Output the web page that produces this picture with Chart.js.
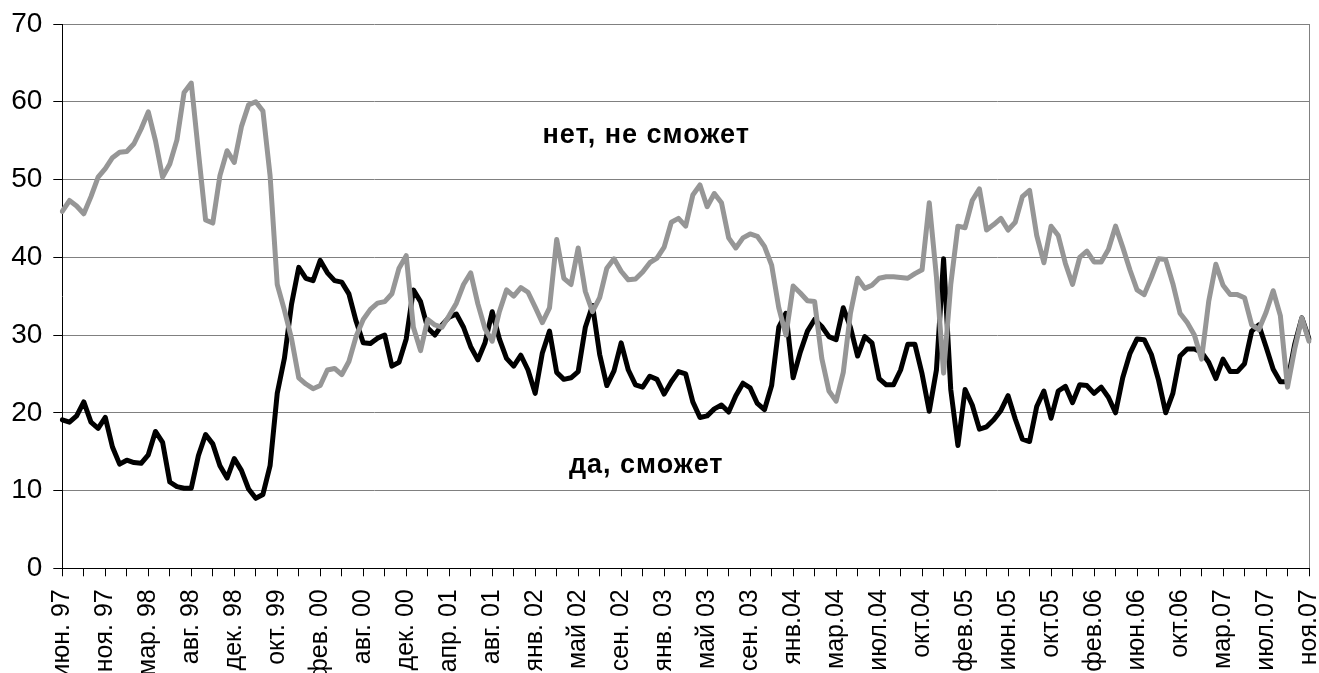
<!DOCTYPE html>
<html>
<head>
<meta charset="utf-8">
<script src="https://cdn.jsdelivr.net/npm/chart.js@4"></script>
<style>
html, body { margin: 0; padding: 0; background: #fff; overflow: hidden; }
</style>
</head>
<body>
<canvas id="chart" width="1319" height="673"></canvas>
<script>
// подписи оси X (каждая шестая точка)
const tickLabels = [
    'июн. 97', 'ноя. 97', 'мар. 98', 'авг. 98', 'дек. 98', 'окт. 99', 'фев. 00', 'авг. 00',
    'дек. 00', 'апр. 01', 'авг. 01', 'янв. 02', 'май 02', 'сен. 02', 'янв. 03', 'май 03',
    'сен. 03', 'янв.04', 'мар.04', 'июл.04', 'окт.04', 'фев.05', 'июн.05', 'окт.05',
    'фев.06', 'июн.06', 'окт.06', 'мар.07', 'июл.07', 'ноя.07',
];
const labelStep = 6;
const tickStep = 3;

// да, сможет
const seriesYes = [
    19.1, 18.8, 19.6, 21.4, 18.8, 18.0, 19.4, 15.6, 13.4, 13.9,
    13.6, 13.5, 14.6, 17.6, 16.2, 11.1, 10.5, 10.3, 10.3, 14.5,
    17.2, 16.0, 13.2, 11.6, 14.1, 12.6, 10.2, 9.0, 9.5, 13.2,
    22.5, 27.0, 34.0, 38.7, 37.3, 37.0, 39.6, 38.0, 37.0, 36.8,
    35.3, 31.8, 29.0, 28.9, 29.6, 30.0, 26.0, 26.5, 29.5, 35.8,
    34.3, 30.9, 30.0, 31.3, 32.3, 32.7, 31.0, 28.5, 26.8, 29.0,
    33.0, 29.5, 27.0, 26.0, 27.4, 25.5, 22.5, 27.7, 30.5, 25.2,
    24.3, 24.5, 25.3, 31.0, 33.8, 27.5, 23.5, 25.4, 29.0, 25.5,
    23.6, 23.3, 24.7, 24.3, 22.4, 24.0, 25.3, 25.0, 21.4, 19.4,
    19.6, 20.5, 21.0, 20.1, 22.2, 23.8, 23.2, 21.2, 20.4, 23.5,
    31.0, 32.8, 24.5, 27.8, 30.5, 32.0, 31.1, 29.8, 29.4, 33.5,
    31.0, 27.3, 29.8, 29.0, 24.4, 23.6, 23.6, 25.5, 28.8, 28.8,
    25.0, 20.2, 25.5, 39.8, 23.0, 15.8, 23.0, 21.0, 17.9, 18.2,
    19.1, 20.3, 22.2, 19.2, 16.6, 16.3, 20.8, 22.8, 19.3, 22.8,
    23.4, 21.3, 23.6, 23.5, 22.5, 23.3, 22.0, 20.0, 24.5, 27.6,
    29.5, 29.4, 27.5, 24.2, 20.0, 22.5, 27.3, 28.2, 28.2, 27.8,
    26.5, 24.4, 26.9, 25.3, 25.3, 26.3, 30.5, 31.3, 28.5, 25.6,
    24.0, 24.0, 28.8, 32.2, 29.5,
];

// нет, не сможет
const seriesNo = [
    45.9, 47.3, 46.6, 45.6, 47.8, 50.3, 51.4, 52.8, 53.5, 53.6,
    54.6, 56.5, 58.7, 55.0, 50.3, 52.0, 55.1, 61.2, 62.4, 53.5,
    44.8, 44.4, 50.5, 53.7, 52.2, 56.8, 59.6, 60.0, 58.8, 50.5,
    36.5, 33.2, 29.5, 24.5, 23.7, 23.1, 23.5, 25.5, 25.7, 24.9,
    26.6, 29.8, 32.0, 33.3, 34.1, 34.3, 35.3, 38.6, 40.2, 31.0,
    28.0, 32.0, 31.3, 31.0, 32.5, 34.1, 36.5, 38.0, 34.0, 30.8,
    29.2, 33.0, 35.8, 35.0, 36.1, 35.5, 33.6, 31.6, 33.5, 42.3,
    37.3, 36.5, 41.2, 35.6, 33.0, 34.8, 38.6, 39.8, 38.2, 37.1,
    37.2, 38.1, 39.3, 39.9, 41.3, 44.5, 45.0, 44.0, 48.0, 49.3,
    46.5, 48.2, 47.0, 42.5, 41.2, 42.5, 43.0, 42.7, 41.4, 39.0,
    33.5, 30.0, 36.3, 35.4, 34.4, 34.3, 27.0, 22.8, 21.5, 25.2,
    32.8, 37.3, 36.0, 36.4, 37.3, 37.5, 37.5, 37.4, 37.3, 37.9,
    38.4, 47.0, 37.5, 25.1, 36.5, 44.0, 43.8, 47.3, 48.8, 43.5,
    44.2, 45.0, 43.5, 44.5, 47.8, 48.6, 42.8, 39.3, 44.0, 42.8,
    39.2, 36.5, 40.0, 40.8, 39.4, 39.4, 41.0, 44.0, 41.3, 38.4,
    35.8, 35.2, 37.4, 39.8, 39.7, 36.6, 32.8, 31.6, 30.0, 26.9,
    34.3, 39.1, 36.4, 35.2, 35.2, 34.8, 31.3, 30.7, 32.9, 35.7,
    32.5, 23.3, 28.2, 32.2, 29.2,
];

const yTicks = [0, 10, 20, 30, 40, 50, 60, 70];

// категории: подпись на каждой шестой точке
const categories = seriesYes.map((v, i) => (i % labelStep === 0 ? tickLabels[i / labelStep] : ''));

Chart.defaults.font.family = '"Liberation Sans", Arial, sans-serif';
Chart.defaults.color = '#000';

// надписи внутри графика
const textLabels = {
    id: 'textLabels',
    afterDatasetsDraw(chart) {
        const { ctx, scales: { x, y } } = chart;
        ctx.save();
        ctx.font = 'bold 27px "Liberation Sans", Arial, sans-serif';
        ctx.letterSpacing = '1px';
        ctx.fillStyle = '#000';
        ctx.textAlign = 'center';
        ctx.textBaseline = 'middle';
        ctx.fillText('нет, не сможет', x.getPixelForValue(81.5), y.getPixelForValue(55.6));
        ctx.fillText('да, сможет', x.getPixelForValue(81.5), y.getPixelForValue(13.2));
        ctx.restore();
    },
};

new Chart(document.getElementById('chart'), {
    type: 'line',
    data: {
        labels: categories,
        datasets: [
            {
                label: 'да, сможет',
                data: seriesYes,
                borderColor: '#000000',
                borderWidth: 5,
                pointRadius: 0,
                tension: 0,
                borderJoinStyle: 'round',
                borderCapStyle: 'round',
                order: 1,
            },
            {
                label: 'нет, не сможет',
                data: seriesNo,
                borderColor: '#969696',
                borderWidth: 5,
                pointRadius: 0,
                tension: 0,
                borderJoinStyle: 'round',
                borderCapStyle: 'round',
                order: 0,
            },
        ],
    },
    options: {
        responsive: false,
        animation: false,
        layout: { padding: { top: 24, right: 10, left: 0, bottom: 0 } },
        plugins: {
            legend: { display: false },
            tooltip: { enabled: false },
        },
        scales: {
            x: {
                grid: {
                    drawOnChartArea: true,
                    color: ctx => (ctx.index === categories.length - 1 ? '#808080' : 'rgba(0,0,0,0)'),
                    tickColor: ctx => (ctx.index % tickStep === 0 ? '#000' : 'rgba(0,0,0,0)'),
                    tickLength: 8,
                    lineWidth: 1,
                },
                border: { color: '#000', width: 1 },
                ticks: {
                    autoSkip: false,
                    maxRotation: 90,
                    minRotation: 90,
                    padding: 13,
                    font: { size: 25 },
                    color: '#000',
                },
                afterFit(scale) {
                    scale.height = 104.7;
                    scale.paddingLeft = 0;
                    scale.paddingRight = 0;
                },
            },
            y: {
                min: yTicks[0],
                max: yTicks[yTicks.length - 1],
                afterBuildTicks(scale) {
                    scale.ticks = yTicks.map(v => ({ value: v }));
                },
                ticks: { padding: 11, font: { size: 28 }, color: '#000' },
                grid: { color: '#808080', tickColor: '#000', tickLength: 9, lineWidth: 1 },
                border: { color: '#000', width: 1 },
                afterFit(scale) {
                    scale.width = 62.3;
                    scale.paddingTop = 0;
                    scale.paddingBottom = 0;
                },
            },
        },
    },
    plugins: [textLabels],
});
</script>
</body>
</html>
